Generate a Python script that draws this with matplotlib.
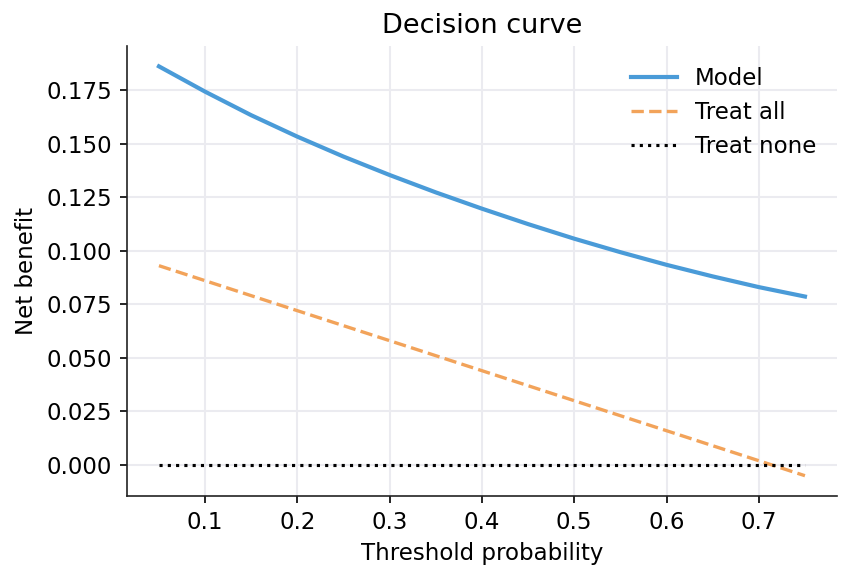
import numpy as np
import matplotlib
matplotlib.use("Agg")
import matplotlib.pyplot as plt

# threshold probabilities and net benefit
thresholds = [0.05, 0.10, 0.15, 0.20, 0.25, 0.30, 0.35, 0.40,
              0.45, 0.50, 0.55, 0.60, 0.65, 0.70, 0.75]
nb_model = [0.186, 0.1742, 0.1632, 0.1532, 0.1439, 0.1353, 0.1272, 0.1196,
            0.1124, 0.1056, 0.0993, 0.0934, 0.0880, 0.0830, 0.0786]
nb_treat_all = [0.093, 0.086, 0.079, 0.072, 0.065, 0.058, 0.051, 0.044,
                0.037, 0.030, 0.023, 0.016, 0.009, 0.002, -0.005]
nb_treat_none = [0.0] * len(thresholds)

fig, ax = plt.subplots(figsize=(850 / 150, 581 / 150), dpi=150)

ax.plot(thresholds, nb_model, color="#4a9bd8", lw=2.0, label="Model")
ax.plot(thresholds, nb_treat_all, color="#f2a35a", lw=1.6, ls="--", label="Treat all")
ax.plot(thresholds, nb_treat_none, color="black", lw=1.5, ls=":", label="Treat none")

ax.set_xticks([0.1, 0.2, 0.3, 0.4, 0.5, 0.6, 0.7])
ax.set_yticks([0.0, 0.025, 0.05, 0.075, 0.1, 0.125, 0.15, 0.175])
ax.grid(True, color="#ebebf0", lw=1.0)
ax.set_axisbelow(True)
for s in ["top", "right"]:
    ax.spines[s].set_visible(False)
for s in ["left", "bottom"]:
    ax.spines[s].set_color("#222222")

ax.tick_params(labelsize=11)
ax.set_xlabel("Threshold probability", fontsize=11)
ax.set_ylabel("Net benefit", fontsize=11)
ax.set_title("Decision curve", fontsize=13)
ax.legend(frameon=False, loc="upper right", fontsize=11)

fig.subplots_adjust(left=0.149, right=0.985, top=0.921, bottom=0.146)
fig.savefig("out.png", dpi=150)
